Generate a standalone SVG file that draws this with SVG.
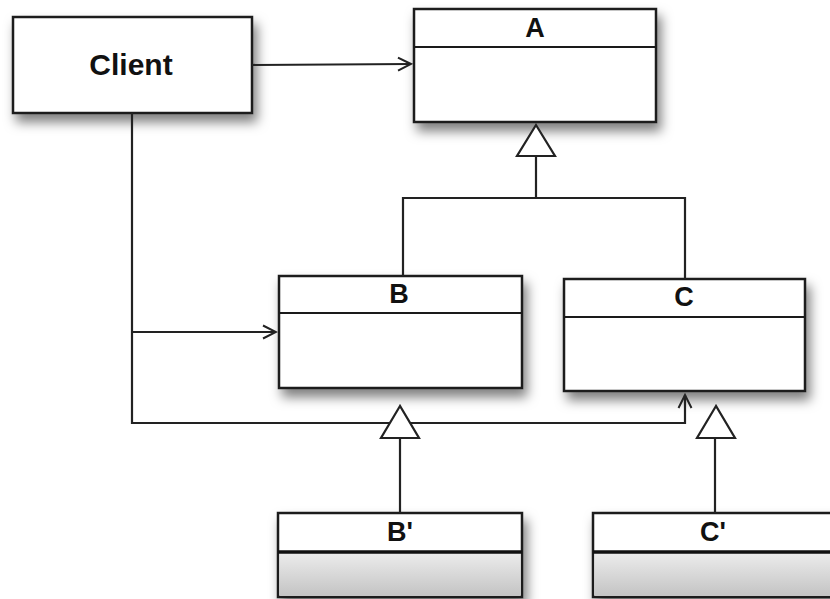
<svg xmlns="http://www.w3.org/2000/svg" width="830" height="599" viewBox="0 0 830 599">
<style>
.box{fill:#fff;stroke:#1a1a1a;stroke-width:2.5}
.sep{stroke:#1a1a1a;stroke-width:2}
.thick{stroke:#111;stroke-width:3.5}
.lbl{font-family:"Liberation Sans",Arial,sans-serif;font-weight:bold;font-size:27px;fill:#111;text-anchor:middle}
.ln{fill:none;stroke:#222;stroke-width:2.2}
.tri{fill:#fff;stroke:#222;stroke-width:2.2;stroke-linejoin:miter}
</style>
<defs>
<filter id="sh" x="-20%" y="-20%" width="150%" height="160%">
<feDropShadow dx="4" dy="8" stdDeviation="6" flood-color="#000" flood-opacity="0.5"/>
</filter>
<linearGradient id="gr" x1="0" y1="0" x2="0" y2="1">
<stop offset="0" stop-color="#ececec"/>
<stop offset="1" stop-color="#c4c4c4"/>
</linearGradient>
<marker id="open" markerUnits="userSpaceOnUse" markerWidth="16" markerHeight="16" viewBox="0 0 16 16" refX="14" refY="8" orient="auto">
<path d="M1,1.5 L14,8 L1,14.5" fill="none" stroke="#222" stroke-width="2"/>
</marker>
</defs>

<g id="Client">
<rect class="box" x="13" y="17" width="239" height="96" filter="url(#sh)"/>
<text class="lbl" x="131" y="75" style="font-size:30px">Client</text>
</g>

<g id="A">
<rect class="box" x="414" y="9" width="242" height="113" filter="url(#sh)"/>
<line class="sep" x1="414" y1="47" x2="656" y2="47"/>
<text class="lbl" x="535" y="37">A</text>
</g>

<g id="B">
<rect class="box" x="279" y="276" width="243" height="112" filter="url(#sh)"/>
<line class="sep" x1="279" y1="313" x2="522" y2="313"/>
<text class="lbl" x="399" y="303">B</text>
</g>

<g id="C">
<rect class="box" x="564" y="279" width="241" height="112" filter="url(#sh)"/>
<line class="sep" x1="564" y1="317" x2="805" y2="317"/>
<text class="lbl" x="684" y="306">C</text>
</g>

<g id="Bprime">
<rect class="box" x="278" y="513" width="244" height="84" filter="url(#sh)"/>
<rect x="279.5" y="553" width="241" height="42.5" fill="url(#gr)"/>
<line class="thick" x1="278" y1="552" x2="522" y2="552"/>
<text class="lbl" x="400" y="541">B'</text>
</g>

<g id="Cprime">
<rect class="box" x="593" y="513" width="250" height="84" filter="url(#sh)"/>
<rect x="594.5" y="553" width="240" height="42.5" fill="url(#gr)"/>
<line class="thick" x1="593" y1="552" x2="843" y2="552"/>
<text class="lbl" x="713" y="541">C'</text>
</g>

<g id="connectors">
<line class="ln" x1="252" y1="65" x2="411" y2="64" marker-end="url(#open)"/>
<polyline class="ln" points="132,113 132,423 685,423 685,395" marker-end="url(#open)"/>
<line class="ln" x1="132" y1="332" x2="276" y2="332" marker-end="url(#open)"/>
<polyline class="ln" points="403,276 403,198 685,198 685,279"/>
<line class="ln" x1="536" y1="198" x2="536" y2="156"/>
<polygon class="tri" points="536,125 517,156 555,156"/>
<line class="ln" x1="400" y1="513" x2="400" y2="438"/>
<polygon class="tri" points="400,406 381,438 419,438"/>
<line class="ln" x1="715" y1="513" x2="715" y2="438"/>
<polygon class="tri" points="716,406 697,438 735,438"/>
</g>
</svg>
